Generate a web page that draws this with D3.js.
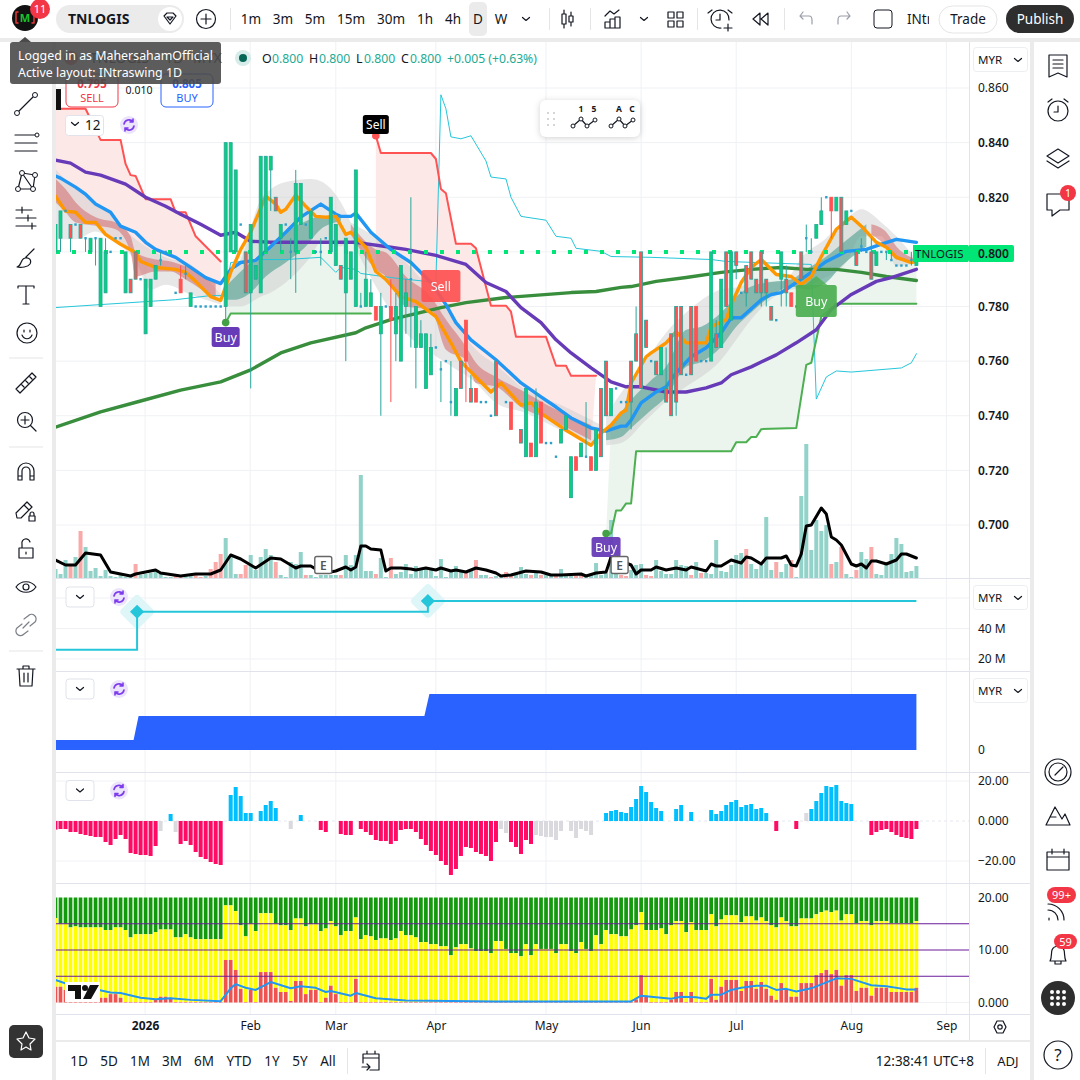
<!DOCTYPE html>
<html>
<head>
<meta charset="utf-8">
<title>TNLOGIS 1D</title>
<script src="https://d3js.org/d3.v7.min.js"></script>
<style>
  html, body { margin: 0; padding: 0; background: #fff; }
  svg { display: block; font-family: "Noto Sans", sans-serif; }
  .tick line { display: none; }
  .domain { display: none; }
</style>
</head>
<body>
<svg id="chart" width="1080" height="1080"></svg>
<script>
// candles, prices in thousandths of MYR, one entry per session
const open = [800,805,815,810,810,810,805,800,805,780,
  785,800,805,805,785,790,800,790,770,780,
  790,797,800,800,785,790,792,780,780,780,
  780,780,780,780,780,800,800,810,800,785,
  790,785,800,830,820,805,810,800,800,810,
  810,805,800,800,805,800,795,795,785,790,
  780,780,780,780,780,770,780,780,770,760,
  780,790,765,765,750,755,765,757,760,745,
  740,760,775,750,750,745,745,740,760,null,
  745,745,null,735,725,730,725,745,730,730,
  725,730,735,710,725,725,725,725,720,750,
  760,740,750,745,745,760,770,800,775,760,
  760,755,750,770,780,780,755,780,780,760,
  760,760,770,765,800,775,800,785,795,800,
  790,800,790,780,775,790,790,785,780,800,
  805,800,805,810,820,820,815,820,810,815,
  800,802,800,800,795,800,800,797,795,795,
  795,797,795];
const close = [810,815,815,805,810,805,805,805,805,805,
  800,800,805,805,800,785,790,790,790,790,
  795,797,800,800,785,785,792,785,780,780,
  780,780,780,780,840,840,830,810,785,810,
  795,835,835,835,815,810,810,800,825,825,
  810,815,800,800,805,820,810,790,805,800,
  830,780,790,785,775,780,780,775,780,795,
  785,790,780,770,770,765,765,757,760,745,
  750,750,760,745,745,745,745,740,740,null,
  745,735,null,730,750,725,745,730,730,730,
  725,735,740,725,720,730,725,720,735,725,
  740,750,750,745,745,745,760,750,765,760,
  755,765,745,740,745,755,755,755,760,760,
  760,800,765,790,780,800,795,785,785,790,
  785,785,785,775,775,800,785,780,780,790,
  805,800,810,815,820,815,820,800,815,815,
  795,802,800,790,800,800,800,797,795,795,
  795,797,800];
const high = [810,815,815,810,810,810,805,805,805,805,
  805,800,805,805,800,790,800,790,790,790,
  795,800,800,800,785,795,795,785,780,780,
  780,780,780,780,840,840,830,810,800,810,
  795,835,835,835,820,810,810,805,830,825,
  810,815,800,805,805,820,810,795,805,800,
  830,785,800,790,780,785,780,790,785,795,
  790,820,780,775,770,770,765,760,760,760,
  750,760,775,755,750,745,745,740,760,null,
  745,745,null,735,750,730,750,745,730,730,
  725,735,740,725,725,730,745,725,735,750,
  760,750,750,745,745,760,780,800,775,760,
  760,765,765,770,780,780,755,780,780,760,
  760,800,775,790,800,800,800,785,795,800,
  790,800,790,780,775,800,795,785,780,800,
  810,805,810,820,820,820,820,820,815,815,
  800,805,800,805,800,800,800,800,795,795,
  795,800,800];
const low = [800,800,815,800,810,805,800,800,795,780,
  785,800,805,805,785,785,790,790,770,780,
  790,795,800,800,785,785,790,780,780,780,
  780,780,780,780,775,800,800,810,785,750,
  790,785,800,815,815,800,810,790,785,810,
  810,805,800,795,805,800,795,790,760,790,
  780,780,780,780,775,740,780,745,760,760,
  770,765,750,765,750,755,765,745,760,740,
  740,750,745,745,745,745,745,740,740,null,
  745,735,null,730,725,725,725,730,730,730,
  725,730,735,710,720,725,725,720,720,725,
  740,740,750,745,745,735,760,750,765,760,
  755,755,745,740,740,755,755,755,760,760,
  760,760,765,765,780,775,790,785,780,790,
  785,780,780,775,775,780,780,780,780,790,
  800,800,805,810,820,805,815,800,810,815,
  795,800,800,790,795,800,797,797,795,795,
  795,795,795];
const solidRed = [25,64,67,82,84,91,95,97,104,107,128,147,155];

// moving averages, read as knots: session index / price
const orangeIdx = [0,2,4,6,8,10,13,16,17,20,24,26,28,31,33,34,35,37,39,42,44,45,46,48,50,52,54,56,58,59,62,64,66,69,72,76,79,81,84,87,89,93,95,97,99,102,107,109,111,113,114,115,118,119,122,124,126,128,130,131,134,135,137,139,141,144,147,149,151,153,156,159,161,164,166,168,171,172];
const orangeVal = [820.4,814.9,814.5,810.8,810.8,806.4,802.8,799.8,796.5,794.3,793.6,792.5,789.2,783.6,782.2,787.3,792.5,800.9,807.2,820.4,817.5,814.5,815.6,820.8,816.7,813,812.7,813,806.4,807.2,801.7,792.8,789.9,783.6,781.8,776.3,766.7,759.8,754.2,748.7,752,743.9,744.7,741,738.4,734.7,729.2,733.6,736.6,741,742.1,752,761.6,763,766.7,770.8,766.7,766.7,766.7,772.6,775.2,780.7,788.8,794.3,797.2,791.7,791,788,791,798.3,808.3,812.7,809.4,803.5,801.7,798,796.1,796.5];
const blueIdx = [0,1,4,6,8,11,13,16,18,20,24,27,30,33,35,37,40,43,46,49,53,56,57,59,60,63,67,71,75,78,80,83,88,93,97,100,103,107,110,113,114,115,117,120,122,124,127,130,133,135,137,141,143,145,148,151,154,158,162,165,168,172];
const blueVal = [827.8,827,823.7,821.1,817.5,814.5,809.4,807.2,803.5,800.9,798,794.3,790.6,788.4,793.6,796.1,796.9,802,807.2,812.7,817.5,813.8,813,813,814.2,807.2,800.9,796.1,788.8,780.7,774.1,767.8,760.5,752,746.9,743.2,739.2,735.5,734.4,736.2,736.2,738.4,744.7,748.7,750.6,755.7,761.6,764.9,770.4,775.9,775.9,782.5,784.4,785.1,788.8,792.5,796.5,800.2,800.9,802.8,804.6,803.5];
const purpleIdx = [0,3,6,9,14,18,22,25,29,33,36,39,43,53,60,67,70,76,82,86,90,93,97,100,103,107,111,114,117,122,126,130,133,135,139,144,148,152,155,159,164,167,172];
const purpleVal = [833.6,832.5,829.2,828.1,824.8,820,816.7,813.8,810.1,806.1,807.2,803.9,803.5,803.5,803.5,801.7,800.9,798.7,795.4,788.8,785.5,779.6,774.1,767.8,763,757.5,752.4,750.6,750.6,748.7,748.7,750.2,752,755,757.9,762.3,766.7,771.5,778.9,784.4,789.2,790.6,793.6];
const ma200Idx = [0,9,17,25,33,39,45,51,60,62,67,77,82,90,103,108,113,115,120,126,133,139,145,150,156,161,166,172];
const ma200Val = [735.8,741.4,745.4,749.4,752.4,756.8,763,766.7,770.4,772.2,775.2,779.6,781.4,783.3,785.1,785.5,787,787.3,789.2,790.6,792.5,793.6,794.3,793.6,793.6,792.5,791,789.5];

// trailing stops
const redStop1Idx = [0,6,9,13,14,15,16,18,23,24,26,28,33];
const redStop1Val = [852.4,852.4,841,841,832.2,828.1,827.8,819.3,819.3,814.5,814.5,805.7,796.5];
const redStop2Idx = [64,65,75,76,77,78,80,83,84,87,90,91,92,98,100,102,103,108];
const redStop2Val = [842.5,836.2,836.2,834,823,821.5,803,803,801.3,780.3,780.3,778.1,768.9,768.9,758.3,758.3,754.6,754.6];
const greenStop1Idx = [34,35,63];
const greenStop1Val = [774.1,777.4,777.4];
const greenStop2Idx = [110,111,112,113,114,115,116,135,136,138,139,140,141,148,150,151,153,156,172];
const greenStop2Val = [696.9,696.9,705.3,705.3,707.9,707.9,727,727,730.3,730.3,732.2,732.2,735.1,735.5,758.6,759.4,776.3,781,781];

// thin channel line
const channelIdx = [0,9,24,31,34,35,41,46,53,56,57,60,61,67,76,77,78,79,81,83,86,87,90,91,93,98,100,103,104,109,111,119,131,134,140,151,152,154,156,159,169,171,172];
const channelVal = [779.6,780.7,782.5,784,784,796.1,797.2,797.2,798,792.5,794.3,793.6,792.1,790.6,788.8,857.5,852.4,842.1,841.4,842.5,833.3,827.4,826.7,820,813,811.6,805.7,805,801.3,800.2,798.3,798,797.2,796.5,796.1,795.4,746.1,754.2,756.4,756,757.5,759.4,762.7];

// shaded bands: gray envelopes, red when falling, teal when rising
const grayBands = [
  { idx: [0,4,8,11,16,19,22,27,33], up: [830.3,823,817.5,813.8,804.6,800.9,798,795.4,784.4], lo: [804.6,804.6,807.5,804.6,796.5,786.2,788,784.4,780.7] },
  { idx: [34,37,41,43,46,51,53,57,59], up: [789.9,797.2,819.3,823,825.6,826.7,825.9,818.2,810.8], lo: [780,780,783.6,785.1,788.8,798.3,803.5,802,804.6] },
  { idx: [59,64,70,78,84,88,94,101,109], up: [810.8,805.3,796.1,778.9,764.2,758.6,749.4,743.9,736.6], lo: [804.6,787.3,770.4,759.4,752,744.7,741,734.7,729.2] },
  { idx: [110,113,118,123,126,133,137,139,145,150,153,158,161,165,168,172], up: [740.2,748.4,760.5,772.6,777.8,786.2,787.3,789.9,788.8,799.8,803.5,812,815.6,810.8,805.7,797.2], lo: [729.2,730,738.4,746.9,750.6,760.5,770.4,775.2,785.1,787.3,789.9,796.1,805.7,805.7,794.7,796.1] }
];
const redBands = [
  { idx: [0,2,4,9,12,15,16,20,23,26,32], up: [826.7,823,818.2,812,810.8,805.7,799.8,797.2,796.5,794.7,788.8], lo: [818.2,814.5,810.8,809.4,808.3,799.8,791,792.8,792.8,789.9,782.5] },
  { idx: [59,64,66,70,75,78,82,84,88,93,99,107], up: [810.1,800.9,799.8,791,783.6,775.2,765.3,759.4,754.2,749.4,743.2,736.6], lo: [806.4,793.6,791,780,778.9,764.2,760.5,752,750.6,743.2,738.4,731] },
  { idx: [163,166,168,172], up: [810.1,807.2,802,797.2], lo: [806.4,802,797.2,796.1] }
];
const tealBands = [
  { idx: [34,36,39,42,46,50,53,57], up: [787.3,791,796.1,799.8,807.2,811.2,813,812.7], lo: [782.5,782.5,785.1,791,796.1,802,808.3,811.2] },
  { idx: [110,113,115,119,122,126,129,133,136,139,144,147,150,154,157,162], up: [734.7,741.4,745.8,753,757.9,771.5,772.6,777.8,783.6,787.3,789.2,789.9,793.6,798.3,802.8,810.1], lo: [731,732.2,735.5,742.1,746.9,757.9,759.7,765.3,772.6,777.8,785.1,787.3,786.2,788.8,794.7,802] }
];

// volume, arbitrary height units
const volume = [9,4,18,13,21,47,31,7,10,2,
  8,2,1,3,1,2,14,3,4,5,
  8,4,1,1,2,2,3,4,3,1,
  2,9,16,24,40,21,4,4,13,23,
  8,21,29,23,16,3,1,16,14,26,
  3,3,1,3,3,3,3,3,23,13,
  23,103,7,7,4,20,1,20,4,6,
  14,4,12,8,10,8,2,19,1,6,
  12,7,6,7,18,3,3,1,2,3,
  6,4,4,11,4,3,7,3,3,2,
  3,9,2,2,3,3,3,3,15,3,
  5,58,5,3,2,8,13,14,3,2,
  18,7,4,4,18,13,12,3,16,5,
  5,4,38,7,6,13,23,25,29,14,
  9,13,61,8,16,6,14,18,1,82,
  134,28,58,47,53,14,16,31,4,1,
  8,26,19,31,4,3,14,24,40,34,
  6,7,12];
const volumeDown = [3,5,16,24,25,28,29,31,32,33,37,38,44,50,57,64,67,82,84,87,90,91,95,97,100,104,105,113,114,118,119,127,129,138,144,147,155,157,160,163];
const volMaIdx = [0,2,4,6,9,11,15,16,20,21,25,28,31,33,35,37,40,43,45,48,49,51,52,53,55,56,58,59,60,61,62,63,65,66,67,69,71,72,74,76,77,79,80,82,84,86,88,89,91,94,97,99,101,105,106,108,110,111,115,116,117,119,120,122,124,126,127,130,131,132,133,135,137,138,139,141,142,144,145,146,147,148,149,150,151,153,154,155,156,157,159,160,161,162,163,164,166,168,169,170,172];
const volMaVal = [18,13,13,25,23,6,2,4,8,5,2,4,4,8,23,19,10,20,19,10,12,12,9,6,6,7,11,8,11,32,32,29,28,7,10,10,9,8,10,8,10,7,8,6,10,8,5,2,3,7,6,3,3,4,2,5,6,21,13,4,8,8,11,8,10,8,11,7,14,12,12,18,15,21,20,14,20,20,20,22,13,12,24,52,53,70,64,41,38,33,14,12,14,10,17,17,14,18,24,24,20];

// pane 2, stepped line in millions
const cumIdx = [0,16.3,16.3,74.4,74.4,172];
const cumVal = [26,26,51,51,58,58];
const cumMarks = [[16.3,51],[74.4,58]];

// pane 3, stepped blue area
const cashIdx = [0,15.6,16.6,73.7,74.7,172];
const cashVal = [10,10,34,34,56,56];

// pane 4 histogram
const hist = [-4.3,-4,-4,-5.5,-5.5,-6.5,-7,-7.5,-8,-8,
  -10.5,-12,-9,-7,-9,-16,-16.5,-17,-17,-17.5,
  -12.5,-5,0,3.5,-5.5,-11.5,-10,-12,-15.5,-18,
  -19,-20.5,-21.5,-22,0,13,17,12.5,4,4,
  0,5,8,10,6.5,0,0,-4,0,3,
  0,0,0,-4.5,-5.5,0,0,-6.5,-7,-7,
  0,-4,-5.5,-7,-9.5,-10,-10,-11.5,-10,-4.5,
  -4,-4,-5.5,-9,-12,-15,-17,-20,-22,-27,
  -24,-17.5,-13,-13.5,-15.5,-16.5,-17.5,-20,-10.5,-4,
  -6,-10.5,-13,-16.5,-9.5,-11.5,-7,-7.5,-8,-8,
  -9.5,-5,0,-5,-8.5,-4,-5,-7,0,0,
  4,5,5.5,4.5,4,7,11,17.5,14.5,9.5,
  6.5,5,0,0,6,8,0,4.5,0,0,
  0,5.5,3.5,5,8,9.5,10.5,7,8,8.5,
  6,6.5,4,0,-5,0,0,0,-4,0,
  4,6,10,14,17.5,17,18,10,9,8.5,
  0,0,0,-7,-5.5,-4.5,-4,-5.5,-7,-8,
  -8.5,-9,-4];
const histGray = [21,24,47,89,90,96,97,98,99,100,101,103,104,105,106,107,150];

// pane 5 stacked bars
const yellowTop = [16.1,15,15,14.3,14.5,14.3,14.3,14.3,14.3,14.3,
  13.8,13.8,14.3,14.3,13.8,12.4,13,13,13,13,
  13.4,13.9,13.9,13.9,12.4,12.4,13,12.4,12.05,12.05,
  12.05,12.05,12.05,12.05,18.5,18.5,17.4,14.7,12.6,15,
  13.6,17,17,17,15,14.7,14.7,13.8,16,16,
  14.5,14.9,14.9,13.6,14.1,15.5,14.5,12.8,13.6,13.6,
  16.2,12.05,12.8,12.6,11.9,12.2,12.2,11.9,12.2,13.6,
  12.8,12.8,12.4,11.5,11.5,11.1,11.1,10.7,10.7,9,
  10.5,11.1,11.1,10.3,9.8,9.8,9.8,9.4,11.7,11.7,
  10.2,9.4,9.4,8.8,11.1,9,11.1,10.2,10.2,10.2,
  9.4,11.1,11.1,9.8,9.4,11.5,10.2,9.8,12.8,11.1,
  13.8,13,13,12.6,12.6,13.9,14.7,17.2,13.8,13.8,
  13.8,14.1,13,14.7,15.5,15.5,13.4,15.3,13.8,13.8,
  13.8,16.8,14.5,15.8,16.6,16.6,16.6,15.3,16.4,16.4,
  15.6,16.2,15.5,14.7,14.3,16.2,15.5,14.5,14.5,16,
  16,16,16.8,17.2,17.5,17.2,17.5,15.6,16.8,16.8,
  15.1,15.5,15.5,14.7,15.5,15.5,15.5,15.1,15.1,15.1,
  15.1,15.1,15.5];
const redTop = [3,3,2.4,1.6,.3,.3,.3,.3,1.6,.9,
  .9,1.6,1.6,.9,.1,.1,.1,.1,.1,.1,
  .5,1.1,1.1,.9,.1,.1,.1,.1,.1,.1,
  .1,.1,.1,.1,8.1,8.1,6.2,2.6,.1,2.4,
  .1,5.8,5.8,5.8,2.8,2,2,.3,4.1,4.1,
  1.6,2.4,2.4,.1,.9,3.2,1.6,.1,.1,.1,
  4.5,.1,.1,.1,.1,.1,.1,.1,.1,.1,
  .1,.1,.1,.1,.1,.1,.1,.1,.1,.1,
  .1,.1,.1,.1,.1,.1,.1,.1,.1,.1,
  .1,.1,.1,.1,.1,.1,.1,.1,.1,.1,
  .1,.1,.1,.1,.1,.1,.1,.1,.1,.1,
  .1,.1,.1,.1,.1,.1,.6,5.2,1.3,.1,
  .1,.1,.1,.5,2,2,.1,2,.1,.1,
  .1,4.5,.5,3,4.3,4.3,4.3,2.2,4.1,4.1,
  2.6,3.9,2.6,1.3,.5,3.7,2.4,1.1,1.1,3.7,
  3.7,3.7,5.2,5.6,6.2,5.4,6.2,3.2,5.2,5.2,
  2.2,2.8,2.8,1.3,2.8,2.8,2.8,2,2,2,
  2,2,2.8];
const rsiIdx = [0,3,7,11,13,17,20,23,27,33,35,36,38,40,43,47,49,52,54,55,59,60,64,70,88,115,117,123,125,128,130,131,133,135,137,140,142,144,146,148,151,156,159,163,166,170,172];
const rsiVal = [4.3,3.3,2.7,1.9,1.8,.9,.6,.8,.5,.25,2.7,3.5,2.8,2.4,3.9,2.7,3.1,2.8,2,2.2,1.3,1.8,.8,.4,.2,.2,1.3,.7,1.1,1,.7,1.5,1.5,2.4,2.8,3.2,3.2,2.4,2.6,2.1,2.7,4.6,4.5,3.3,3.1,2.5,2.5];
const levels5 = [15,10,5];

// axes
const priceTicks = [860,840,820,800,780,760,740,720,700];
const monthIdx = [17.9,38.9,56,76,98,117,136,159,178];
const monthLabels = ["2026","Feb","Mar","Apr","May","Jun","Jul","Aug","Sep"];

const svg = d3.select("#chart");
const chartLeft = 56, chartRight = 969;

const x = d3.scaleLinear().domain([0, 172]).range([55.5, 916.4]);
const yMain = d3.scaleLinear().domain([700, 860]).range([525, 88]);
const yVol = d3.scaleLinear().domain([0, 134]).range([578, 444]);
const yCum = d3.scaleLinear().domain([20, 40]).range([659, 628.5]);
const yCash = d3.scaleLinear().domain([0, 60]).range([750, 690]);
const yHist = d3.scaleLinear().domain([-20, 20]).range([861, 781]);
const y5 = d3.scaleLinear().domain([0, 20]).range([1002.5, 897.5]);

const zip = (idx, val) => idx.map((d, k) => [d, val[k]]);
const gridColor = "#f0f1f4", sepColor = "#e0e3eb";

svg.append("defs").append("clipPath").attr("id", "plot")
  .append("rect").attr("x", chartLeft).attr("y", 42).attr("width", chartRight - chartLeft).attr("height", 536);
svg.select("defs").append("clipPath").attr("id", "plot5")
  .append("rect").attr("x", chartLeft).attr("y", 884).attr("width", chartRight - chartLeft).attr("height", 130);

// grid
const gridG = svg.append("g");
monthIdx.forEach(m => {
  gridG.append("line").attr("x1", x(m)).attr("x2", x(m)).attr("y1", 42).attr("y2", 1014)
    .attr("stroke", gridColor).attr("stroke-width", 1);
});
priceTicks.forEach(p => hline(gridG, yMain(p), gridColor));
[60, 40, 20].forEach(p => hline(gridG, yCum(p), gridColor));
[20, -20].forEach(p => hline(gridG, yHist(p), gridColor));
hline(gridG, y5(0), gridColor);
function hline(g, y, col) {
  g.append("line").attr("x1", chartLeft).attr("x2", chartRight).attr("y1", y).attr("y2", y)
    .attr("stroke", col).attr("stroke-width", 1);
}

// main pane
const main = svg.append("g").attr("clip-path", "url(#plot)");
const lineGen = d3.line().x(d => x(d[0])).y(d => yMain(d[1]));

function fillBetween(lineIdx, lineVal, color) {
  const from = lineIdx[0], to = lineIdx[lineIdx.length - 1];
  const orange = zip(orangeIdx, orangeVal).filter(d => d[0] >= from && d[0] <= to).reverse();
  main.append("path").attr("d", lineGen(zip(lineIdx, lineVal).concat(orange)) + "Z")
    .attr("fill", color).attr("stroke", "none");
}
fillBetween(redStop1Idx, redStop1Val, "#fde8e8");
fillBetween(redStop2Idx, redStop2Val, "#fde8e8");
fillBetween(greenStop1Idx, greenStop1Val, "#ebf5ee");
fillBetween(greenStop2Idx, greenStop2Val, "#ebf5ee");

const bandGen = d3.area().curve(d3.curveMonotoneX)
  .x(d => x(d.i)).y0(d => yMain(d.lo)).y1(d => yMain(d.up));
function drawBands(list, color, op) {
  list.forEach(b => {
    const rows = b.idx.map((d, k) => ({ i: d, up: b.up[k], lo: b.lo[k] }));
    main.append("path").attr("d", bandGen(rows)).attr("fill", color).attr("opacity", op);
  });
}
drawBands(grayBands, "#c9c9c9", 0.45);
drawBands(redBands, "#cf6a6a", 0.55);
drawBands(tealBands, "#4c9c8e", 0.6);

// volume
main.selectAll(".vol").data(volume).enter().append("rect")
  .attr("x", (d, i) => x(i) - 2).attr("width", 4)
  .attr("y", d => yVol(d)).attr("height", d => yVol(0) - yVol(d))
  .attr("fill", (d, i) => volumeDown.includes(i) ? "#faa9a9" : "#92d2c9");

function strokeLine(points, color, w, gen) {
  return main.append("path").attr("d", (gen || lineGen)(points)).attr("fill", "none")
    .attr("stroke", color).attr("stroke-width", w)
    .attr("stroke-linejoin", "round").attr("stroke-linecap", "round");
}

strokeLine(zip(channelIdx, channelVal), "#26c6da", 1);
strokeLine(zip(ma200Idx, ma200Val), "#388e3c", 3.4);
strokeLine(zip(redStop1Idx, redStop1Val), "#ff5252", 2);
strokeLine(zip(redStop2Idx, redStop2Val), "#ff5252", 2);
strokeLine(zip(greenStop1Idx, greenStop1Val), "#4caf50", 2);
strokeLine(zip(greenStop2Idx, greenStop2Val), "#4caf50", 2);
strokeLine(zip(purpleIdx, purpleVal), "#673ab7", 3.4);
strokeLine(zip(blueIdx, blueVal), "#2196f3", 3.4);
strokeLine(zip(orangeIdx, orangeVal), "#ff9800", 3.4);

const volLine = d3.line().x(d => x(d[0])).y(d => yVol(d[1]));
strokeLine(zip(volMaIdx, volMaVal), "#000", 3, volLine);

// last price dots
main.append("line").attr("x1", chartLeft).attr("x2", 916)
  .attr("y1", yMain(800)).attr("y2", yMain(800))
  .attr("stroke", "#00e676").attr("stroke-width", 4).attr("stroke-dasharray", "4 12");

// candles
const candles = open.map((o, i) => ({ i, o, c: close[i], h: high[i], l: low[i] })).filter(d => d.o !== null);
const red = d => d.c < d.o;
const solid = d => solidRed.includes(d.i);
main.selectAll(".wick").data(candles.filter(d => d.h !== d.l)).enter().append("line")
  .attr("x1", d => x(d.i)).attr("x2", d => x(d.i))
  .attr("y1", d => yMain(d.h)).attr("y2", d => yMain(d.l))
  .attr("stroke", d => solid(d) ? "#ff5252" : "#26a69a").attr("stroke-width", 1);
main.selectAll(".body").data(candles.filter(d => d.o !== d.c)).enter().append("rect")
  .attr("x", d => x(d.i) - 1.5).attr("width", 3)
  .attr("y", d => yMain(Math.max(d.o, d.c)))
  .attr("height", d => Math.abs(yMain(d.o) - yMain(d.c)))
  .attr("fill", d => red(d) ? "#ff5252" : "#08cf80")
  .attr("stroke", d => solid(d) ? "#ff5252" : "#26a69a").attr("stroke-width", 0.8);
main.selectAll(".doji").data(candles.filter(d => d.o === d.c)).enter().append("rect")
  .attr("x", d => x(d.i) - 1.2).attr("width", 2.4)
  .attr("y", d => yMain(d.o) - 1.2).attr("height", 2.4)
  .attr("fill", "#2e9fc9");

// signal tags
function tag(cx, cy, w, h, fill, label, col, size, op) {
  const g = svg.append("g").attr("opacity", op || 1);
  g.append("rect").attr("x", cx - w / 2).attr("y", cy - h / 2).attr("width", w).attr("height", h)
    .attr("rx", 2.5).attr("fill", fill);
  g.append("text").attr("x", cx).attr("y", cy + size * 0.36).attr("text-anchor", "middle")
    .attr("font-size", size).attr("fill", col).text(label);
}
const dot = (i, p, col) => svg.append("circle").attr("cx", x(i)).attr("cy", yMain(p)).attr("r", 3.8).attr("fill", col);
dot(64, 842.5, "#ff5252");
tag(x(64), 124.5, 26, 19, "#000", "Sell", "#fff", 12);
dot(34, 774.1, "#43a047");
tag(x(34), 337, 28, 20, "#673ab7", "Buy", "#fff", 12.5);
dot(110, 696.9, "#43a047");
tag(x(110), 547, 29, 20, "#673ab7", "Buy", "#fff", 12.5, 0.94);
tag(x(77) , 286, 39, 32, "#ff5252", "Sell", "#fff", 12.5, 0.92);
svg.append("path").attr("d", d3.line()([[x(152) - 11, 285], [x(152), 276], [x(152) + 11, 285]]) + "Z").attr("fill", "#4caf50").attr("opacity", 0.8);
tag(x(152), 301, 41, 32, "#4caf50", "Buy", "#fff", 12.5, 0.92);

[[x(53.5), 565], [x(112.7), 565]].forEach(p => {
  svg.append("rect").attr("x", p[0] - 8.5).attr("y", p[1] - 8.5).attr("width", 17).attr("height", 17)
    .attr("rx", 2).attr("fill", "#fff").attr("stroke", "#666").attr("stroke-width", 1.4);
  svg.append("text").attr("x", p[0]).attr("y", p[1] + 4.5).attr("text-anchor", "middle")
    .attr("font-size", 12).attr("font-weight", 600).attr("fill", "#555").text("E");
});

// pane 2
const cumLine = d3.line().x(d => x(d[0])).y(d => yCum(d[1]));
cumMarks.forEach(m => {
  svg.append("rect").attr("transform", `translate(${x(m[0])},${yCum(m[1])}) rotate(45)`)
    .attr("x", -13).attr("y", -13).attr("width", 26).attr("height", 26).attr("rx", 4).attr("fill", "#dff6f9");
});
svg.append("path").attr("d", cumLine(zip(cumIdx, cumVal))).attr("fill", "none")
  .attr("stroke", "#26c6da").attr("stroke-width", 2);
cumMarks.forEach(m => {
  svg.append("rect").attr("transform", `translate(${x(m[0])},${yCum(m[1])}) rotate(45)`)
    .attr("x", -5).attr("y", -5).attr("width", 10).attr("height", 10).attr("fill", "#26c6da");
});

// pane 3
const cashArea = d3.area().x(d => x(d[0])).y0(yCash(0)).y1(d => yCash(d[1]));
svg.append("path").attr("d", cashArea(zip(cashIdx, cashVal))).attr("fill", "#2962ff");

// pane 4
svg.append("line").attr("x1", chartLeft).attr("x2", chartRight).attr("y1", yHist(0)).attr("y2", yHist(0))
  .attr("stroke", "#e6e8ee").attr("stroke-dasharray", "3 3");
svg.append("g").selectAll("rect").data(hist).enter().append("rect")
  .attr("x", (d, i) => x(i) - 2).attr("width", 4)
  .attr("y", d => yHist(Math.max(d, 0)))
  .attr("height", d => Math.abs(yHist(d) - yHist(0)))
  .attr("fill", (d, i) => histGray.includes(i) ? "#d9d9de" : (d > 0 ? "#00bfff" : "#ff0a64"));

// pane 5
const stack = svg.append("g").attr("clip-path", "url(#plot5)");
const stackW = 3.7;
yellowTop.forEach((v, i) => {
  const bx = x(i) - stackW / 2;
  stack.append("rect").attr("x", bx).attr("width", stackW).attr("y", y5(20)).attr("height", y5(v) - y5(20)).attr("fill", "#129a0c");
  stack.append("rect").attr("x", bx).attr("width", stackW).attr("y", y5(v)).attr("height", y5(redTop[i]) - y5(v)).attr("fill", "#ffff00");
  stack.append("rect").attr("x", bx).attr("width", stackW).attr("y", y5(redTop[i])).attr("height", y5(0) - y5(redTop[i])).attr("fill", "#ef5350");
});
levels5.forEach(l => hline(stack, y5(l), "#6a1b9a"));
const rsiLine = d3.line().x(d => x(d[0])).y(d => y5(d[1]));
stack.append("path").attr("d", rsiLine(zip(rsiIdx, rsiVal))).attr("fill", "none")
  .attr("stroke", "#2196f3").attr("stroke-width", 2).attr("stroke-linejoin", "round");

// tradingview mark
const tv = svg.append("g").attr("transform", "translate(66,984)");
tv.append("rect").attr("x", -1).attr("y", -2).attr("width", 35).attr("height", 20).attr("fill", "#fff");
tv.append("path").attr("fill", "#111").attr("d", "M2 1h13v14h-6v-8h-7zM24 1h9l-8 14h-8zM19 1a3 3 0 1 1 0 6a3 3 0 1 1 0-6z");

// pane separators
[578, 671, 772, 883, 1014].forEach(y => {
  svg.append("line").attr("x1", chartLeft).attr("x2", 1033).attr("y1", y + .5).attr("y2", y + .5).attr("stroke", sepColor).attr("stroke-width", 1.2);
});

// price axes
function rightAxis(scale, ticks, fmt) {
  const g = svg.append("g").attr("transform", `translate(${chartRight},0)`)
    .call(d3.axisRight(scale).tickValues(ticks).tickFormat(fmt).tickSize(0).tickPadding(9));
  g.selectAll("text").attr("font-size", 12).attr("font-family", '"Noto Sans", sans-serif').attr("fill", "#131722");
  return g;
}
const mainAxis = rightAxis(yMain, priceTicks, d => (d / 1000).toFixed(3));
mainAxis.selectAll("text").attr("font-weight", d => d === 860 ? 400 : 600);
rightAxis(yCum, [40, 20], d => d + " M");
rightAxis(yCash, [0], d => d);
rightAxis(yHist, [20, 0, -20], d => d === 0 ? "0.000" : (d < 0 ? "\u2212" + (-d).toFixed(2) : d.toFixed(2)));
rightAxis(y5, [20, 10, 0], d => d === 0 ? "0.000" : d.toFixed(2));

// time axis
const timeAxis = svg.append("g").attr("transform", "translate(0,1014)")
  .call(d3.axisBottom(x).tickValues(monthIdx).tickFormat((d, i) => monthLabels[i]).tickSize(0).tickPadding(7));
timeAxis.selectAll("text").attr("font-size", 12).attr("font-family", '"Noto Sans", sans-serif').attr("fill", "#131722")
  .attr("font-weight", (d, i) => i === 0 ? 700 : 400);

// ---- everything below is the app chrome round the chart ----
const label = (x0, y0, s, o = {}) => svg.append("text").attr("x", x0).attr("y", y0)
  .attr("font-size", o.size || 13).attr("fill", o.fill || "#131722")
  .attr("font-weight", o.weight || 400).attr("text-anchor", o.anchor || "start").text(s);
const icon = (tx, ty, d, o = {}) => svg.append("path").attr("transform", `translate(${tx},${ty})`).attr("d", d)
  .attr("fill", o.fill || "none").attr("stroke", o.stroke || "#131722").attr("stroke-width", o.w || 1.2)
  .attr("stroke-linecap", "round").attr("stroke-linejoin", "round");
const box = (x0, y0, w, h, r, fill, stroke) => svg.append("rect").attr("x", x0).attr("y", y0).attr("width", w).attr("height", h)
  .attr("rx", r).attr("fill", fill).attr("stroke", stroke || "none");
const vsep = (x0, y1, y2, col) => svg.append("line").attr("x1", x0 + .5).attr("x2", x0 + .5).attr("y1", y1).attr("y2", y2).attr("stroke", col || "#e5e5e5");
const circ = (cx, cy, r, fill, stroke, w) => svg.append("circle").attr("cx", cx).attr("cy", cy).attr("r", r)
  .attr("fill", fill).attr("stroke", stroke || "none").attr("stroke-width", w || 1);
const chevron = (cx, cy) => icon(cx, cy, "M-3.5 -1.5L0 1.5L3.5 -1.5");

// frames
box(0, 0, 1080, 38, 0, "#fff");
box(0, 38, 1080, 4, 0, "#ebebeb");
box(0, 42, 52, 1038, 0, "#fff");
box(52, 42, 4, 1038, 0, "#ebebeb");
box(1030, 42, 4, 1038, 0, "#ebebeb");
box(1034, 42, 46, 1038, 0, "#fff");
box(56, 1040, 974, 2, 0, "#ebebeb");
vsep(chartRight, 42, 1040, sepColor);

// top bar
circ(25, 18, 13, "#111");
icon(25, 18, "M-7 -6H-9V5H-7M7 -6H9V5H7", { stroke: "#e53935", w: 1.5 });
label(25, 22, "M", { size: 11, weight: 700, fill: "#18c22b", anchor: "middle" });
circ(40, 9, 10, "#f23645");
label(40, 13, "11", { size: 11, fill: "#fff", anchor: "middle" });
box(56, 5, 128, 28, 14, "#ebebeb");
label(68, 24, "TNLOGIS", { size: 14, weight: 700 });
circ(170, 19, 12, "#fff");
icon(170, 19, "M-6 -3L-3 -6H3L6 -3L0 5ZM-3 -2H3L0 1Z");
circ(206, 19, 9.5, "none", "#131722", 1.2);
icon(206, 19, "M-5 0H5M0 -5V5");
vsep(230, 8, 30);
[["1m", 251], ["3m", 283], ["5m", 315], ["15m", 351], ["30m", 391], ["1h", 425], ["4h", 453]].forEach(t => label(t[1], 24, t[0], { size: 13.5, anchor: "middle" }));
box(469, 2, 18, 34, 5, "#ebebeb");
label(478, 24, "D", { size: 13.5, anchor: "middle" });
label(501, 24, "W", { size: 13.5, anchor: "middle" });
chevron(526, 19);
vsep(549, 8, 30);
icon(567, 19, "M-5 -5H-1V5H-5ZM-3 -9V-5M-3 5V9M2 -3H6V3H2ZM4 -7V-3M4 3V7");
vsep(590, 8, 30);
icon(613, 19, "M-8 9V3H-3V9M-3 9V0H2V9M2 9V-2H7V9M-8 9H7M-8 -3L-3 -8L1 -5L6 -9");
chevron(644, 19);
icon(675, 19, "M-7 -7H-1V-1H-7ZM2 -7H8V-1H2ZM-7 2H-1V8H-7ZM2 2H8V8H2Z");
vsep(697, 8, 30);
icon(720, 19, "M-8 -9L-12 -6M8 -9L12 -6M0 -5V1H-4M1 9A9 9 0 1 1 9 1M8 5V12M4 9H12");
icon(761, 19, "M-1 -6L-8 0L-1 6ZM7 -6L0 0L7 6Z");
vsep(784, 8, 30);
icon(806, 19, "M-6 -3L-3 -7M-6 -3L-3 0M-6 -3H3Q6 -3 6 1V5", { stroke: "#9a9ea8" });
icon(844, 19, "M6 -3L3 -7M6 -3L3 0M6 -3H-3Q-6 -3 -6 1V5", { stroke: "#9a9ea8" });
box(874, 10, 18, 18, 3, "none", "#131722");
label(907, 24, "INtra", { size: 13.5 });
box(929, 3, 10, 32, 0, "#fff");
box(939, 6, 58, 27, 13.5, "#fff", "#e5e5e5");
label(968, 24, "Trade", { size: 13.5, anchor: "middle" });
box(1006, 5, 68, 28, 14, "#2e2e2e");
label(1040, 24, "Publish", { size: 13.5, fill: "#fff", anchor: "middle" });

// legend line
circ(71, 58, 7, "#e57373");
label(90, 63, "TNLOGIS", { size: 14 });
label(165, 63, "1D", { size: 14 });
label(193, 63, "MYX", { size: 14 });
circ(243, 58, 8, "#d5ece8");
circ(243, 58, 4, "#056656");
[["O", 262, 272], ["H", 309, 319], ["L", 356, 364], ["C", 401, 410]].forEach(o => {
  label(o[1], 63, o[0], { size: 12.4 });
  label(o[2], 63, "0.800", { size: 12.2, fill: "#22ab94" });
});
label(447, 63, "+0.005 (+0.63%)", { size: 12.2, fill: "#22ab94" });

// buy / sell boxes
box(56, 89, 5, 21, 0, "#111");
box(66, 74, 52, 33, 5, "#fff", "#f23645");
label(92, 88, "0.795", { size: 11.5, weight: 700, fill: "#f23645", anchor: "middle" });
label(92, 102, "SELL", { size: 11, fill: "#f23645", anchor: "middle" });
label(139, 94, "0.010", { size: 10.5, anchor: "middle" });
box(161, 74, 52, 33, 5, "#fff", "#2962ff");
label(187, 88, "0.805", { size: 11.5, weight: 700, fill: "#2962ff", anchor: "middle" });
label(187, 102, "BUY", { size: 11, fill: "#2962ff", anchor: "middle" });

// pane controls
function sync(cx, cy) {
  circ(cx, cy, 9, "#ece4fa");
  icon(cx, cy, "M-5 -1A5 5 0 0 1 4 -3M5 1A5 5 0 0 1 -4 3M4 -6V-3H1M-4 6V3H-1", { stroke: "#7c3aed", w: 1.6 });
}
box(65.5, 115.5, 38, 20, 3, "#fff", "#e0e3eb");
chevron(75, 124);
label(85, 130, "12", { size: 13.5 });
sync(129, 125);
[597, 689, 790.5].forEach(cy => {
  box(66, cy - 10, 28, 20, 3, "#fff", "#e0e3eb");
  chevron(80, cy);
  sync(119, cy);
});
[[47, "MYR"], [585, "MYR"], [678, "MYR"]].forEach(m => {
  box(973.5, m[0] + .5, 54, 24, 3, "#fff", "#eceef2");
  label(978, m[0] + 17, m[1], { size: 11.5 });
  chevron(1018, m[0] + 13);
});

// zigzag widget
box(540, 100, 100, 37, 6, "#fff").style("filter", "drop-shadow(0 1px 3px rgba(0,0,0,.18))");
[[548, 113], [554, 113], [548, 119], [554, 119], [548, 125], [554, 125]].forEach(p => circ(p[0], p[1], 1, "#c9c9c9"));
[[572, ["1", "5"]], [610, ["A", "C"]]].forEach(w => {
  const c = w[0];
  icon(c, 118, "M1 8L9 1L15 8L23 2");
  [[1, 8], [9, 1], [15, 8], [23, 2]].forEach(p => circ(c + p[0], 118 + p[1], 2, "#fff", "#131722", 1));
  label(c + 9, 112, w[1][0], { size: 8.5, weight: 700, anchor: "middle" });
  label(c + 22, 112, w[1][1], { size: 8.5, weight: 700, anchor: "middle" });
});

// last price label
box(913, 245, 55, 17, 0, "#00e676");
label(915, 257.5, "TNLOGIS", { size: 11.5 });
box(968, 245, 46, 17, 2, "#00e676");
label(978, 257.5, "0.800", { size: 12, weight: 600 });

// left toolbar
icon(26, 104, "M-9 9L9 -9");
circ(17, 113, 2.5, "#fff", "#131722"); circ(35, 95, 2.5, "#fff", "#131722");
icon(26, 143, "M-11 -8H9M-11 0H11M-11 8H11");
circ(37, 135, 2, "#fff", "#131722");
icon(26, 181, "M-8 8L-4 -8L9 -6L7 8ZM-4 -8L7 8");
[[18, 189], [22, 173], [35, 175], [33, 189]].forEach(p => circ(p[0], p[1], 2.5, "#fff", "#131722"));
icon(26, 218, "M-10 -8H6M-10 0H10M-10 8H10M-4 -11V-5M2 -3V3M6 5V11");
icon(26, 257, "M-9 10C-4 9 -6 2 -1 1C3 0 6 3 4 7C2 10 -5 11 -9 10ZM0 0L8 -8");
icon(26, 295, "M-8 -7V-9H8V-7M0 -9V9M-3 9H3");
circ(27, 333, 10, "none", "#131722", 1.2);
icon(27, 333, "M-5 2C-3 7 3 7 5 2M-3 -3V-1M3 -3V-1");
svg.append("line").attr("x1", 9).attr("x2", 43).attr("y1", 358).attr("y2", 358).attr("stroke", "#e5e5e5");
icon(26, 383, "M-10 6L6 -10L10 -6L-6 10ZM-5 1L-2 4M-1 -3L2 0M3 -7L6 -4");
circ(25, 420, 7.5, "none", "#131722", 1.2);
icon(25, 420, "M-4 0H4M0 -4V4M5.5 5.5L11 11");
svg.append("line").attr("x1", 9).attr("x2", 43).attr("y1", 447).attr("y2", 447).attr("stroke", "#e5e5e5");
icon(26, 472, "M-8 8V-1A8 8 0 0 1 8 -1V8H4V-1A4 4 0 0 0 -4 -1V8ZM-8 4H-4M4 4H8");
icon(24, 510, "M-7 8L-8 3L3 -8L8 -3L-3 8ZM0 -5L5 0M5 6H11V11H5ZM6 6V4A2 2 0 0 1 10 4V6");
icon(26, 549, "M-7 -1H7V9H-7ZM-4 -1V-5A4 4 0 0 1 4 -7M0 3V5");
icon(26, 587, "M-10 0C-5 -7 5 -7 10 0C5 7 -5 7 -10 0Z");
circ(26, 587, 3, "none", "#131722", 1.2);
icon(26, 625, "M-2 -6L2 -9A4 4 0 0 1 9 -3L4 1M2 6L-2 9A4 4 0 0 1 -9 3L-4 -1M-3 3L3 -3", { stroke: "#7b7f88" });
svg.append("line").attr("x1", 9).attr("x2", 43).attr("y1", 651).attr("y2", 651).attr("stroke", "#e5e5e5");
icon(26, 676, "M-9 -7H9M-3 -7V-10H3V-7M-7 -7L-6 10H6L7 -7M-2 -3V6M2 -3V6");
box(9, 1025, 34, 33, 5, "#333");
icon(26, 1041, "M0 -9L3 -3L9 -2L4 3L5 9L0 6L-5 9L-4 3L-9 -2L-3 -3Z", { stroke: "#fff" });

// right toolbar
icon(1058, 66, "M-9 -11H9V11L0 7L-9 11ZM-5 -6H5M-5 -2H5M-5 2H5");
circ(1058, 111, 10, "none", "#131722", 1.2);
icon(1058, 111, "M0 -5V1H-4M-10 -9L-6 -12M10 -9L6 -12");
icon(1058, 158, "M0 -9L11 -2L0 5L-11 -2ZM-11 3L0 10L11 3");
icon(1058, 204, "M-11 -10H11V6H2L-6 12V6H-11Z");
circ(1068, 193, 8, "#f23645");
label(1068, 197, "1", { size: 10.5, fill: "#fff", anchor: "middle" });
circ(1058, 772, 13, "none", "#131722", 1.2);
circ(1058, 772, 9, "none", "#131722", 1.2);
icon(1058, 772, "M-3 3L5 -5");
icon(1058, 816, "M-12 9L-3 -9L4 3L7 -2L12 9ZM-8 1H-2");
icon(1058, 860, "M-11 -8H11V10H-11ZM-11 -3H11M-6 -11V-6M6 -11V-6");
icon(1058, 910, "M-10 -6A16 16 0 0 1 6 10M-10 0A10 10 0 0 1 0 10M-9 10V8");
box(1047, 887, 29, 16, 8, "#f23645");
label(1061.5, 899, "99+", { size: 11, fill: "#fff", anchor: "middle" });
icon(1058, 955, "M-8 6C-6 3 -7 -2 -6 -5C-4 -10 4 -10 6 -5C7 -2 6 3 8 6ZM-3 6V9H3V6");
box(1054, 934, 23, 15, 7.5, "#f23645");
label(1065.5, 945.5, "59", { size: 11, fill: "#fff", anchor: "middle" });
circ(1058, 998, 17, "#2e2e2e");
[-6, 0, 6].forEach(a => [-6, 0, 6].forEach(b => circ(1058 + a, 998 + b, 2, "#fff")));
circ(1058, 1055, 14, "none", "#131722", 1.2);
label(1058, 1061, "?", { size: 17, anchor: "middle" });

// time axis corner
icon(1000, 1027, "M-6 0L-3 -6H3L6 0L3 6H-3Z");
circ(1000, 1027, 2.2, "none", "#131722", 1.2);

// bottom bar
[["1D", 79], ["5D", 109], ["1M", 140], ["3M", 172], ["6M", 204], ["YTD", 239], ["1Y", 272], ["5Y", 300], ["All", 328]].forEach(t => label(t[1], 1066, t[0], { size: 13.5, anchor: "middle" }));
vsep(347, 1048, 1074);
icon(371, 1061, "M-8 -7H8V9H-1M-8 -7V2M-8 -3H8M-4 -10V-7M4 -10V-7M-9 6H-2M-4 3L-1 6L-4 9");
label(974, 1066, "12:38:41 UTC+8", { size: 13.5, anchor: "end" });
vsep(985, 1048, 1074);
label(1008, 1066, "ADJ", { size: 13, anchor: "middle" });

// login tooltip
box(10, 42, 211, 42, 3, "#4a4a4a").attr("opacity", 0.9);
svg.append("path").attr("d", "M19 42L25 37L31 42Z").attr("fill", "#4a4a4a");
label(18, 60, "Logged in as MahersahamOfficial", { size: 12.4, fill: "#fff" });
label(18, 77, "Active layout: INtraswing 1D", { size: 12.4, fill: "#fff" });
</script>
</body>
</html>
